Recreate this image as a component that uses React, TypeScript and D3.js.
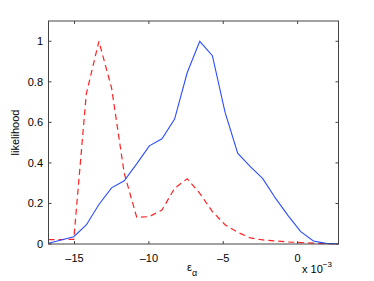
import React from 'react';
import * as d3 from 'd3';

// bin centres (units of 1e-3)
const xs = [-16.75, -15.9, -15.05, -14.21, -13.36, -12.51, -11.66, -10.82, -9.97, -9.12, -8.27, -7.42,
  -6.58, -5.73, -4.88, -4.03, -3.18, -2.34, -1.49, -0.64, 0.21, 1.06, 1.9, 2.75];
const solid = [0.004, 0.02, 0.036, 0.094, 0.195, 0.277, 0.312, 0.395, 0.484, 0.519, 0.616, 0.846,
  1.0, 0.929, 0.65, 0.448, 0.382, 0.322, 0.226, 0.14, 0.061, 0.015, 0.003, 0.0];
const dashed = [0.022, 0.022, 0.023, 0.74, 1.0, 0.77, 0.35, 0.132, 0.135, 0.168, 0.275, 0.322,
  0.25, 0.16, 0.095, 0.058, 0.03, 0.02, 0.015, 0.01, 0.007, 0.004, 0.002, 0.0];
const xTicks = [-15, -10, -5, 0];
const yTicks = [0, 0.2, 0.4, 0.6, 0.8, 1];

const W = 374, H = 281;
const m = { left: 48.5, right: 338.5, top: 21, bottom: 244 };
const font = 'Arial, "Liberation Sans", Helvetica, sans-serif';

export default function App() {
  const x = d3.scaleLinear().domain([-16.75, 2.75]).range([m.left, m.right]);
  const y = d3.scaleLinear().domain([0, 1.1]).range([m.bottom, m.top]);
  const line = d3.line<number>().x((_, i) => x(xs[i])).y(d => y(d));
  const fmt = (v: number) => (v < 0 ? '\u2013' + Math.abs(v) : String(v));
  const tick = 3;
  const axisColor = '#444';

  return (
    <svg width={W} height={H} style={{ position: 'absolute', left: 0, top: 0, background: '#fff' }}>
      <rect x={0} y={0} width={W} height={H} fill="#fff" />
      <path d={line(dashed) || ''} fill="none" stroke="#ff2020" strokeWidth={1.2} strokeDasharray="6,4" />
      <path d={line(solid) || ''} fill="none" stroke="#2a4cff" strokeWidth={1.1} />
      <rect x={m.left} y={m.top} width={m.right - m.left} height={m.bottom - m.top}
        fill="none" stroke={axisColor} strokeWidth={1} />
      {xTicks.map(t => (
        <g key={'x' + t}>
          <line x1={x(t)} x2={x(t)} y1={m.bottom} y2={m.bottom - tick} stroke={axisColor} />
          <line x1={x(t)} x2={x(t)} y1={m.top} y2={m.top + tick} stroke={axisColor} />
          <text x={x(t)} y={262} textAnchor="middle" fontFamily={font} fontSize={11} fill="#000">{fmt(t)}</text>
        </g>
      ))}
      {yTicks.map(t => (
        <g key={'y' + t}>
          <line x1={m.left} x2={m.left + tick} y1={y(t)} y2={y(t)} stroke={axisColor} />
          <line x1={m.right} x2={m.right - tick} y1={y(t)} y2={y(t)} stroke={axisColor} />
          <text x={43} y={y(t) + 4} textAnchor="end" fontFamily={font} fontSize={11} fill="#000">{t}</text>
        </g>
      ))}
      <text x={187} y={271} fontFamily={font} fontSize={11} fill="#000">
        ε<tspan dy={5} fontSize={9}>α</tspan>
      </text>
      <text x={302} y={273} fontFamily={font} fontSize={11} fill="#000">
        x 10<tspan dy={-6} fontSize={8}>{'\u22123'}</tspan>
      </text>
      <text transform={`translate(19,${(m.top + m.bottom) / 2}) rotate(-90)`} textAnchor="middle"
        fontFamily={font} fontSize={11} fill="#000">likelihood</text>
    </svg>
  );
}
